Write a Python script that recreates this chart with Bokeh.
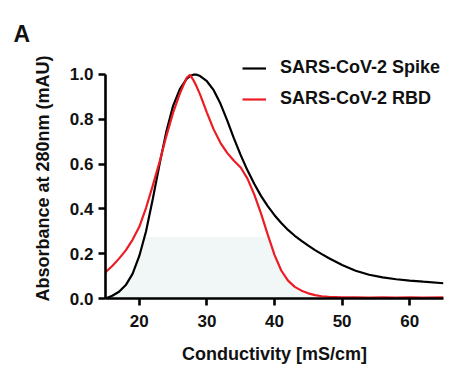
import numpy as np
from bokeh.plotting import figure
from bokeh.models import Legend, LegendItem, FixedTicker, Range1d, NumeralTickFormatter
from bokeh.embed import file_html
from bokeh.resources import INLINE

# Conductivity (mS/cm)
conductivity = [15, 16, 17, 18, 19, 20, 21, 22, 23, 24, 25, 26, 27, 27.5, 28, 28.5, 29, 30,
                31, 32, 33, 34, 35, 36, 37, 38, 39, 40, 41, 42, 43, 44, 45, 46, 47, 48,
                50, 52, 54, 56, 58, 60, 62, 65]
spike = [0.000, 0.012, 0.030, 0.060, 0.110, 0.190, 0.300, 0.445, 0.600, 0.745, 0.860, 0.935,
         0.980, 0.993, 0.999, 0.999, 0.993, 0.970, 0.930, 0.870, 0.795, 0.715, 0.640, 0.572,
         0.512, 0.458, 0.412, 0.372, 0.337, 0.306, 0.280, 0.257, 0.236, 0.216, 0.198, 0.181,
         0.150, 0.124, 0.106, 0.094, 0.086, 0.080, 0.075, 0.068]
rbd = [0.117, 0.145, 0.178, 0.215, 0.262, 0.320, 0.405, 0.505, 0.610, 0.725, 0.830, 0.915,
       0.985, 0.998, 0.975, 0.945, 0.910, 0.830, 0.755, 0.695, 0.650, 0.615, 0.585, 0.535,
       0.465, 0.380, 0.285, 0.195, 0.125, 0.080, 0.052, 0.035, 0.023, 0.015, 0.010, 0.007,
       0.005, 0.005, 0.004, 0.005, 0.004, 0.005, 0.004, 0.005]
shade_cap = 0.274
x_ticks = [20, 30, 40, 50, 60]
y_ticks = [0.0, 0.2, 0.4, 0.6, 0.8, 1.0]
series_names = ["SARS-CoV-2 Spike", "SARS-CoV-2 RBD"]
series_colors = ["#000000", "#ec1c24"]

FONT = "Liberation Sans"

p = figure(width=450, height=380, output_backend="svg", toolbar_location=None,
           x_range=Range1d(15, 65), y_range=Range1d(0, 1.0714),
           min_border_left=105, min_border_right=7, min_border_top=58, min_border_bottom=82)
p.outline_line_color = None
p.xgrid.visible = False
p.ygrid.visible = False

p.title.text = "A"
p.title.align = "left"
p.title.offset = -92
p.title.standoff = 24
p.title.text_font = FONT
p.title.text_font_style = "bold"
p.title.text_font_size = "23px"
p.title.text_color = "#111111"

shade_top = np.minimum(np.minimum(spike, rbd), shade_cap)
p.varea(x=conductivity, y1=0, y2=shade_top, fill_color="#f1f7f6")

r1 = p.line(conductivity, spike, line_color=series_colors[0], line_width=2.2)
r2 = p.line(conductivity, rbd, line_color=series_colors[1], line_width=2.2)

for ax in (p.xaxis[0], p.yaxis[0]):
    ax.axis_line_width = 2.6
    ax.major_tick_line_width = 2.6
    ax.major_tick_out = 7
    ax.major_tick_in = 0
    ax.minor_tick_line_color = None
    ax.major_label_text_font = FONT
    ax.major_label_text_font_style = "bold"
    ax.major_label_text_font_size = "17px"
    ax.major_label_text_color = "#111111"
    ax.axis_label_text_font = FONT
    ax.axis_label_text_font_style = "bold"
    ax.axis_label_text_font_size = "18px"
    ax.axis_label_text_color = "#111111"

p.xaxis[0].ticker = FixedTicker(ticks=x_ticks)
p.yaxis[0].ticker = FixedTicker(ticks=y_ticks)
p.yaxis[0].formatter = NumeralTickFormatter(format="0.0")
p.yaxis[0].bounds = (0, 1.0)
p.xaxis[0].axis_label = "Conductivity [mS/cm]"
p.yaxis[0].axis_label = "Absorbance at 280nm (mAU)"
p.xaxis[0].major_label_standoff = 9
p.xaxis[0].axis_label_standoff = 14
p.yaxis[0].major_label_standoff = 5
p.yaxis[0].axis_label_standoff = 14

legend = Legend(items=[LegendItem(label=series_names[0], renderers=[r1]),
                       LegendItem(label=series_names[1], renderers=[r2])],
                location=(137, 189), border_line_color=None, background_fill_alpha=0,
                padding=0, margin=0, spacing=10, glyph_width=24, glyph_height=20,
                label_height=20, label_standoff=14, label_text_font=FONT,
                label_text_font_style="bold", label_text_font_size="18px",
                label_text_color="#111111")
p.add_layout(legend, "center")

open("out.html", "w").write(file_html(p, INLINE))
